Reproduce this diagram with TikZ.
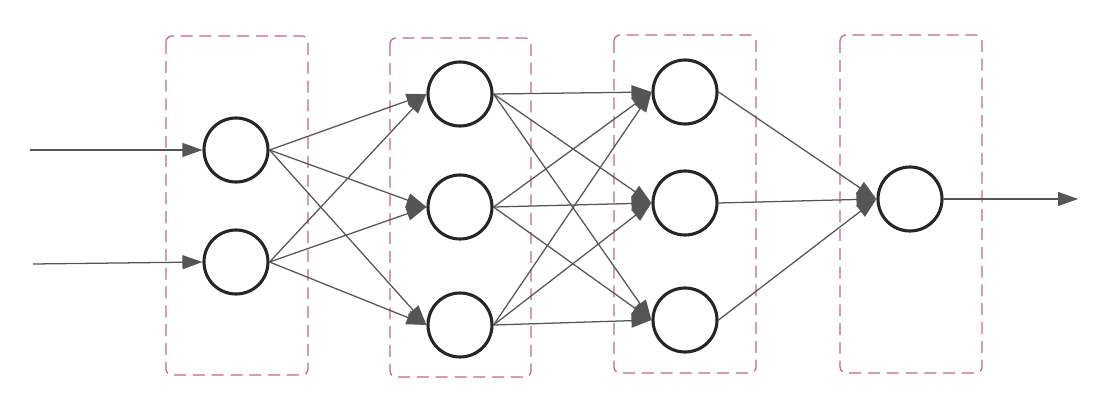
\documentclass[tikz,border=0pt]{standalone}
\usetikzlibrary{arrows.meta}
\definecolor{boxred}{RGB}{192,104,126}
\definecolor{edgegray}{RGB}{85,85,85}
\tikzset{
  neuron/.style={draw=black!85,circle,line width=2.2pt,minimum size=1.6cm,inner sep=0pt},
  layerbox/.style={draw=boxred,dash pattern=on 0.3cm off 0.17cm,line width=0.9pt,rounded corners=0.15cm},
  wire/.style={draw=edgegray,line width=0.9pt,-{Triangle[length=5mm,width=3.5mm]}}
}
\begin{document}
\begin{tikzpicture}[x=0.025cm,y=-0.025cm]
\useasboundingbox (0,0) rectangle (1120,408);
\draw[layerbox] (166,36) rectangle (308,375);
\draw[layerbox] (390,38) rectangle (531,377);
\draw[layerbox] (614,35) rectangle (756,373);
\draw[layerbox] (840,35) rectangle (982,373);
\begin{scope}[every node/.style={neuron}]
  \node (a1) at (236,150) {};
  \node (a2) at (236,262) {};
  \node (b1) at (460,94) {};
  \node (b2) at (460,207) {};
  \node (b3) at (460,325) {};
  \node (c1) at (685,92) {};
  \node (c2) at (685,203) {};
  \node (c3) at (685,320) {};
  \node (d1) at (910,199) {};
\end{scope}
\coordinate (in1) at (30,150);
\coordinate (in2) at (33,264);
\coordinate (out) at (1078,199);
% inputs
\draw[wire] (in1) -- (a1.west);
\draw[wire] (in2) -- (a2.west);
% layer 1 -> layer 2
\draw[wire] (a1.east) -- (b1.west);
\draw[wire] (a1.east) -- (b2.west);
\draw[wire] (a1.east) -- (b3.west);
\draw[wire] (a2.east) -- (b1.west);
\draw[wire] (a2.east) -- (b2.west);
\draw[wire] (a2.east) -- (b3.west);
% layer 2 -> layer 3
\draw[wire] (b1.east) -- (c1.west);
\draw[wire] (b1.east) -- (c2.west);
\draw[wire] (b1.east) -- (c3.west);
\draw[wire] (b2.east) -- (c1.west);
\draw[wire] (b2.east) -- (c2.west);
\draw[wire] (b2.east) -- (c3.west);
\draw[wire] (b3.east) -- (c1.west);
\draw[wire] (b3.east) -- (c2.west);
\draw[wire] (b3.east) -- (c3.west);
% layer 3 -> output
\draw[wire] (c1.east) -- (d1.west);
\draw[wire] (c2.east) -- (d1.west);
\draw[wire] (c3.east) -- (d1.west);
\draw[wire] (d1.east) -- (out);
\end{tikzpicture}
\end{document}
